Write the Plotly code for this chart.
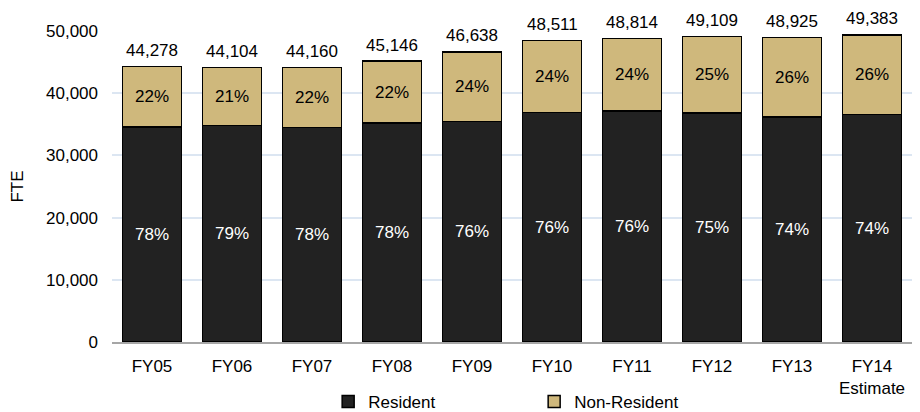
import plotly.graph_objects as go

categories = ["FY05", "FY06", "FY07", "FY08", "FY09", "FY10", "FY11", "FY12", "FY13", "FY14<br>Estimate"]
totals = [44278, 44104, 44160, 45146, 46638, 48511, 48814, 49109, 48925, 49383]
resident = [34540, 34840, 34450, 35210, 35450, 36870, 37100, 36830, 36200, 36540]
non_resident = [t - r for t, r in zip(totals, resident)]
resident_pct = ["78%", "79%", "78%", "78%", "76%", "76%", "76%", "75%", "74%", "74%"]
non_resident_pct = ["22%", "21%", "22%", "22%", "24%", "24%", "24%", "25%", "26%", "26%"]
total_labels = [f"{t:,}" for t in totals]

FONT = "Liberation Sans, Arial, sans-serif"
FS = 17

fig = go.Figure()
fig.add_trace(go.Bar(
    x=categories, y=resident, name="Resident",
    marker=dict(color="#222222", line=dict(color="#000000", width=1.5)),
    text=resident_pct, textposition="inside", insidetextanchor="middle",
    textfont=dict(color="white", size=FS, family=FONT),
    hoverinfo="skip",
))
fig.add_trace(go.Bar(
    x=categories, y=non_resident, name="Non-Resident",
    marker=dict(color="#cfb87c", line=dict(color="#000000", width=1.5)),
    text=non_resident_pct, textposition="inside", insidetextanchor="middle",
    textfont=dict(color="black", size=FS, family=FONT),
    hoverinfo="skip",
))
for c, t, lab in zip(categories, totals, total_labels):
    fig.add_annotation(x=c, y=t, text=lab, showarrow=False, yanchor="middle",
                       yshift=16, font=dict(size=FS, color="black", family=FONT))

fig.update_layout(
    width=920, height=412,
    barmode="stack", bargap=0.26,
    plot_bgcolor="white", paper_bgcolor="white",
    margin=dict(l=104, r=16, t=23, b=78, autoexpand=False),
    font=dict(family=FONT, size=FS, color="black"),
    uniformtext=dict(minsize=FS, mode="show"),
    legend=dict(orientation="h", xref="container", x=0.348, xanchor="left",
                yref="container", y=0.044, yanchor="middle",
                font=dict(size=FS), entrywidth=161, itemwidth=30, traceorder="normal"),
    showlegend=True,
)
fig.update_yaxes(
    range=[0, 50000], dtick=10000, tickformat=",",
    showgrid=True, gridcolor="#dce6f2", gridwidth=1.5,
    zeroline=False, showline=False, ticks="", automargin=False,
    ticklabelstandoff=13,
    title=dict(text="FTE", font=dict(size=FS), standoff=29),
)
fig.update_xaxes(
    showline=True, linecolor="#a6a6a6", linewidth=1.5, automargin=False,
    ticks="", ticklabelstandoff=8,
)

fig.write_html("out.html")
